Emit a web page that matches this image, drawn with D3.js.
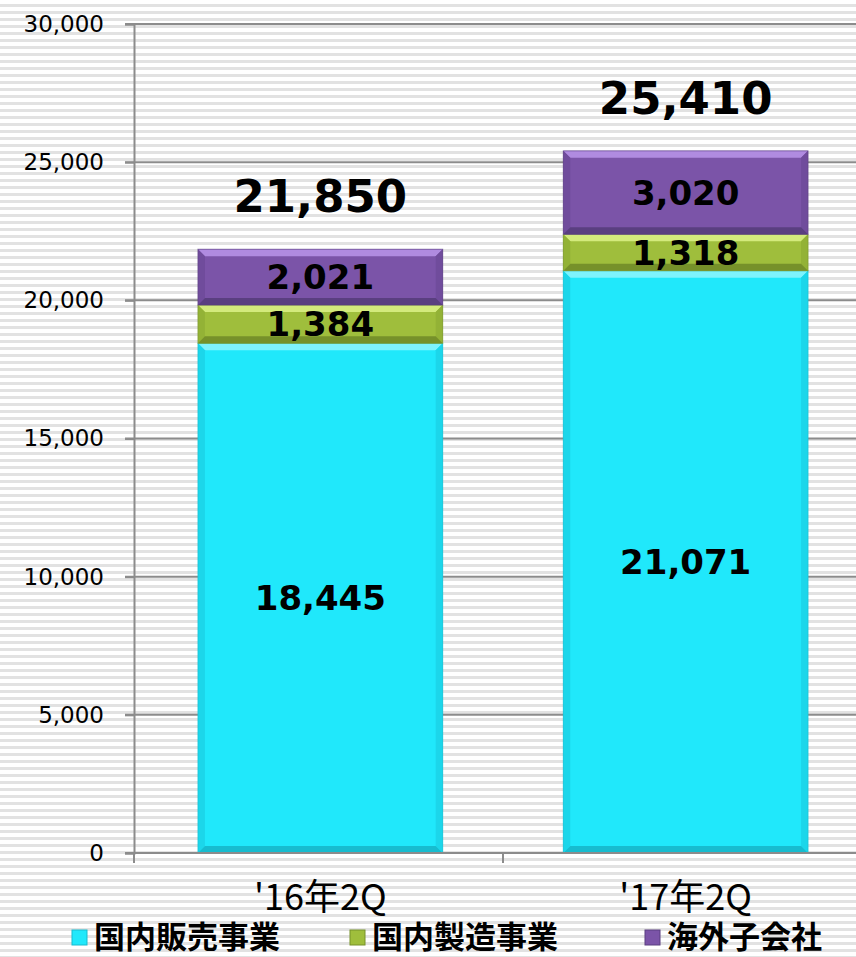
<!DOCTYPE html>
<html>
<head>
<meta charset="utf-8">
<script src="https://cdn.jsdelivr.net/npm/d3@7"></script>
<style>
  html, body { margin: 0; padding: 0; background: #fff; }
  svg { display: block; }
</style>
</head>
<body>
<div id="chart"></div>
<script>
'use strict';

const categories = ["'16年2Q", "'17年2Q"];
const seriesNames = ['国内販売事業', '国内製造事業', '海外子会社'];
const domesticSales = [18445, 21071];
const domesticMfg = [1384, 1318];
const overseas = [2021, 3020];
const totals = [21850, 25410];
const yTicks = [0, 5000, 10000, 15000, 20000, 25000, 30000];

const width = 856;
const height = 957;

// colours per series: main, top bevel, side bevel, bottom bevel
const palette = [
  { main: '#20e8fb', top: '#7ef3fd', side: '#1cd6ea', bottom: '#17bccf' },
  { main: '#9fbe3c', top: '#d3ea7c', side: '#93b236', bottom: '#76912a' },
  { main: '#7b54a8', top: '#b08be0', side: '#704c9c', bottom: '#5a3f80' }
];

const svg = d3.select('#chart')
  .append('svg')
  .attr('width', width)
  .attr('height', height);

// striped background
const defs = svg.append('defs');
const pat = defs.append('pattern')
  .attr('id', 'stripes')
  .attr('patternUnits', 'userSpaceOnUse')
  .attr('width', 10)
  .attr('height', 7);
pat.append('rect').attr('width', 10).attr('height', 7).attr('fill', '#ffffff');
pat.append('rect').attr('y', 4).attr('width', 10).attr('height', 3).attr('fill', '#e2e2e2');

svg.append('rect')
  .attr('width', width)
  .attr('height', height)
  .attr('fill', 'url(#stripes)');

const x = d3.scaleBand()
  .domain(categories)
  .range([134, 872])
  .paddingInner(0.33)
  .paddingOuter(0.175);

const y = d3.scaleLinear()
  .domain([0, 30000])
  .range([853, 24]);

// gridlines
svg.append('g')
  .selectAll('line')
  .data(yTicks.filter(d => d > 0))
  .enter()
  .append('line')
  .attr('x1', 125)
  .attr('x2', width)
  .attr('y1', d => y(d))
  .attr('y2', d => y(d))
  .attr('stroke', '#8c8c8c')
  .attr('stroke-width', 2);

// y axis
const yAxis = svg.append('g')
  .attr('transform', 'translate(134,0)')
  .call(d3.axisLeft(y)
    .tickValues(yTicks)
    .tickSize(9)
    .tickPadding(21)
    .tickFormat(d3.format(',')));
yAxis.select('.domain').attr('stroke', '#8c8c8c').attr('stroke-width', 2);
yAxis.selectAll('.tick line').attr('stroke', '#8c8c8c').attr('stroke-width', 2);
yAxis.selectAll('.tick text')
  .attr('fill', '#000')
  .style('font-family', '"DejaVu Sans", sans-serif')
  .style('font-size', '23px');

// stacked data
const rows = categories.map((c, i) => ({
  cat: c,
  s0: domesticSales[i],
  s1: domesticMfg[i],
  s2: overseas[i]
}));
const stack = d3.stack().keys(['s0', 's1', 's2']);
const layers = stack(rows);

function bevelBar(g, x0, y0, w, h, col) {
  const b = Math.min(7, h / 3);
  g.append('rect')
    .attr('x', x0).attr('y', y0)
    .attr('width', w).attr('height', h)
    .attr('fill', col.main);
  const poly = (pts, fill) => g.append('polygon')
    .attr('points', pts.map(p => p.join(',')).join(' '))
    .attr('fill', fill);
  poly([[x0, y0], [x0 + w, y0], [x0 + w - b, y0 + b], [x0 + b, y0 + b]], col.top);
  poly([[x0, y0], [x0 + b, y0 + b], [x0 + b, y0 + h - b], [x0, y0 + h]], col.side);
  poly([[x0 + w, y0], [x0 + w, y0 + h], [x0 + w - b, y0 + h - b], [x0 + w - b, y0 + b]], col.side);
  poly([[x0, y0 + h], [x0 + b, y0 + h - b], [x0 + w - b, y0 + h - b], [x0 + w, y0 + h]], col.bottom);
  g.append('rect')
    .attr('x', x0).attr('y', y0)
    .attr('width', w).attr('height', h)
    .attr('fill', 'none')
    .attr('stroke', col.bottom)
    .attr('stroke-opacity', 0.6)
    .attr('stroke-width', 1);
}

const barsG = svg.append('g');
layers.forEach((layer, li) => {
  layer.forEach(d => {
    const bx = x(d.data.cat);
    const by = y(d[1]);
    const bh = y(d[0]) - y(d[1]);
    const g = barsG.append('g');
    bevelBar(g, bx, by, x.bandwidth(), bh, palette[li]);
  });
});

// segment labels
layers.forEach(layer => {
  svg.append('g')
    .selectAll('text')
    .data(layer)
    .enter()
    .append('text')
    .attr('x', d => x(d.data.cat) + x.bandwidth() / 2)
    .attr('y', d => (y(d[0]) + y(d[1])) / 2)
    .attr('dy', '0.36em')
    .attr('text-anchor', 'middle')
    .style('font-family', '"DejaVu Sans", sans-serif')
    .style('font-weight', 'bold')
    .style('font-size', '34px')
    .attr('fill', '#000')
    .text(d => d3.format(',')(d[1] - d[0]));
});

// totals
svg.append('g')
  .selectAll('text')
  .data(categories)
  .enter()
  .append('text')
  .attr('x', d => x(d) + x.bandwidth() / 2)
  .attr('y', (d, i) => y(totals[i]) - 37)
  .attr('text-anchor', 'middle')
  .style('font-family', '"DejaVu Sans", sans-serif')
  .style('font-weight', 'bold')
  .style('font-size', '45px')
  .attr('fill', '#000')
  .text((d, i) => d3.format(',')(totals[i]));

// x axis
const xAxis = svg.append('g')
  .attr('transform', 'translate(0,853)');
xAxis.append('line')
  .attr('x1', 125).attr('x2', width)
  .attr('stroke', '#8c8c8c').attr('stroke-width', 2);
const bounds = [134, x(categories[1]) - x.step() * x.paddingInner() / 2];
xAxis.selectAll('.xtick')
  .data(bounds)
  .enter()
  .append('line')
  .attr('x1', d => d).attr('x2', d => d)
  .attr('y1', 0).attr('y2', 10)
  .attr('stroke', '#8c8c8c').attr('stroke-width', 2);
xAxis.selectAll('.xlabel')
  .data(categories)
  .enter()
  .append('text')
  .attr('x', d => x(d) + x.bandwidth() / 2)
  .attr('y', 57)
  .attr('text-anchor', 'middle')
  .style('font-family', '"Noto Sans CJK JP", sans-serif')
  .style('font-size', '36px')
  .attr('fill', '#000')
  .text(d => d);

// legend
const legendX = [72, 350, 645];
const legend = svg.append('g')
  .selectAll('g')
  .data(seriesNames)
  .enter()
  .append('g')
  .attr('transform', (d, i) => `translate(${legendX[i]},937)`);
legend.append('rect')
  .attr('x', 0).attr('y', -7)
  .attr('width', 15).attr('height', 15)
  .attr('fill', (d, i) => palette[i].main)
  .attr('stroke', (d, i) => palette[i].bottom)
  .attr('stroke-width', 1);
legend.append('text')
  .attr('x', 22)
  .attr('y', 0)
  .attr('dy', '0.36em')
  .style('font-family', '"Noto Sans CJK JP", sans-serif')
  .style('font-weight', 'bold')
  .style('font-size', '31px')
  .attr('fill', '#000')
  .text(d => d);
</script>
</body>
</html>
